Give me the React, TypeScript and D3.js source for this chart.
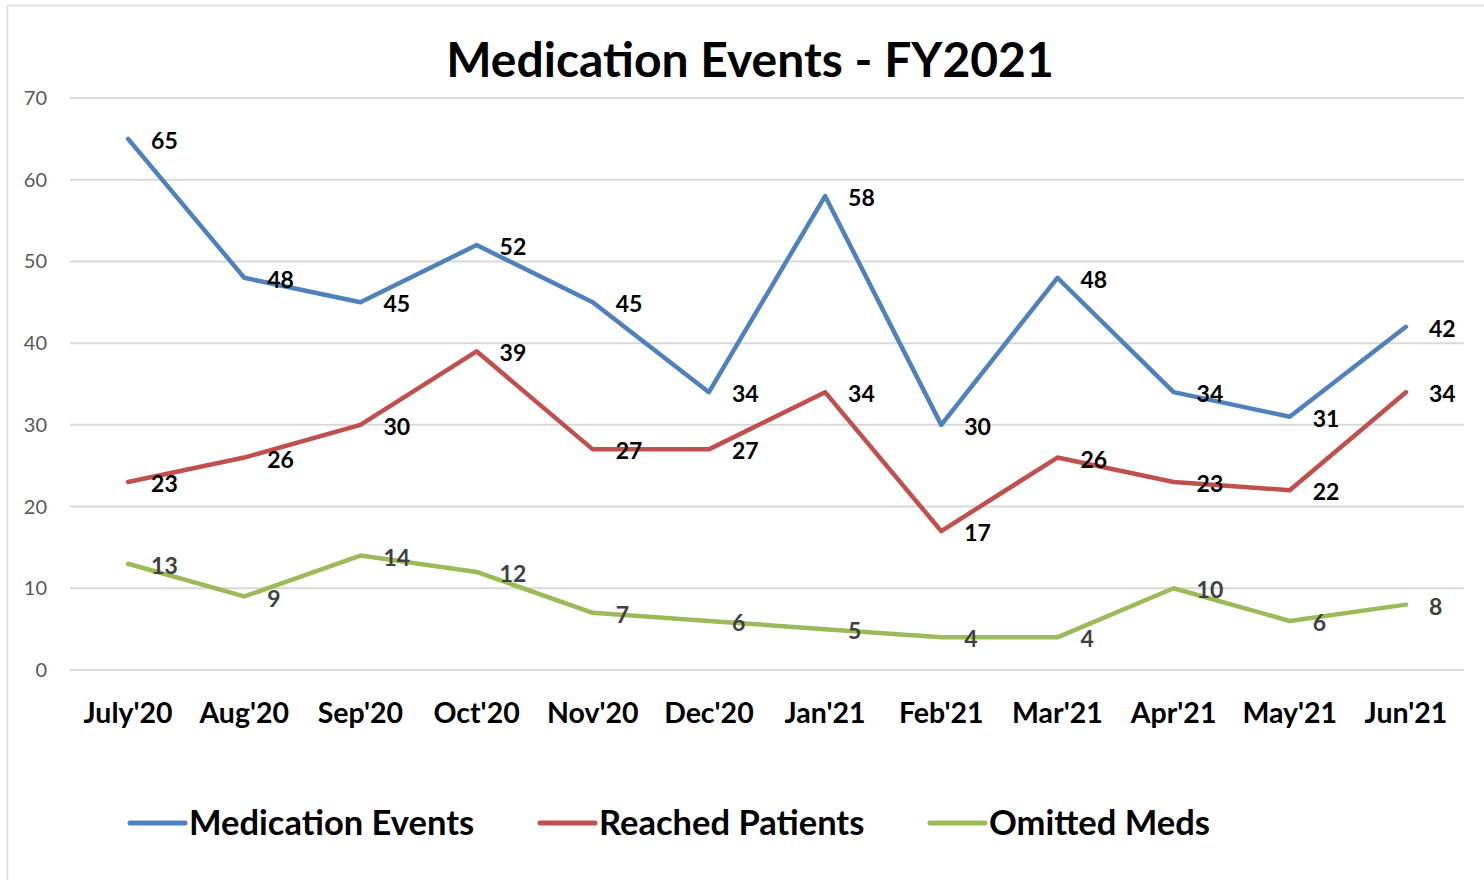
import React, { useRef, useEffect } from 'react'
import * as d3 from 'd3'

const months = ["July'20", "Aug'20", "Sep'20", "Oct'20", "Nov'20", "Dec'20", "Jan'21", "Feb'21", "Mar'21", "Apr'21", "May'21", "Jun'21"]
const medicationEvents = [65, 48, 45, 52, 45, 34, 58, 30, 48, 34, 31, 42]
const reachedPatients = [23, 26, 30, 39, 27, 27, 34, 17, 26, 23, 22, 34]
const omittedMeds = [13, 9, 14, 12, 7, 6, 5, 4, 4, 10, 6, 8]
const yTicks = [0, 10, 20, 30, 40, 50, 60, 70]

const seriesList = [
  { name: 'Medication Events', values: medicationEvents, color: '#4F81BD', labelColor: '#000000' },
  { name: 'Reached Patients', values: reachedPatients, color: '#C0504D', labelColor: '#000000' },
  { name: 'Omitted Meds', values: omittedMeds, color: '#9BBB59', labelColor: '#404040' },
]

const FONT = 'Lato, "Open Sans", sans-serif'

export default function App() {
  const ref = useRef<SVGSVGElement>(null)
  const w = 1484
  const h = 880

  useEffect(() => {
    const svg = d3.select(ref.current)
    svg.selectAll('*').remove()

    // chart frame
    svg.append('rect')
      .attr('x', 7.5).attr('y', 5.5)
      .attr('width', w).attr('height', h)
      .attr('fill', '#fff').attr('stroke', '#d9d9d9').attr('stroke-width', 1.5)

    const x = d3.scaleBand().domain(months).range([70, 1464])
    const y = d3.scaleLinear().domain([0, 70]).range([670, 98])
    const cx = (m: string) => (x(m) as number) + x.bandwidth() / 2

    svg.append('text')
      .attr('x', 750).attr('y', 77)
      .attr('text-anchor', 'middle')
      .style('font', `bold 48px ${FONT}`)
      .text('Medication Events - FY2021')

    // grid
    svg.append('g').selectAll('line').data(yTicks).enter().append('line')
      .attr('x1', 70).attr('x2', 1464)
      .attr('y1', d => y(d)).attr('y2', d => y(d))
      .attr('stroke', '#d9d9d9').attr('stroke-width', 2)

    svg.append('g').selectAll('text').data(yTicks).enter().append('text')
      .attr('x', 47).attr('y', d => y(d))
      .attr('dy', '0.35em')
      .attr('text-anchor', 'end')
      .attr('fill', '#595959')
      .style('font', `20px ${FONT}`)
      .text(d => d)

    svg.append('g').selectAll('text').data(months).enter().append('text')
      .attr('x', d => cx(d)).attr('y', 713)
      .attr('dy', '0.35em')
      .attr('text-anchor', 'middle')
      .style('font', `bold 28.5px ${FONT}`)
      .text(d => d)

    const line = d3.line<number>()
      .x((d, i) => cx(months[i]))
      .y(d => y(d))

    seriesList.forEach(s => {
      svg.append('path')
        .datum(s.values)
        .attr('d', line)
        .attr('fill', 'none')
        .attr('stroke', s.color)
        .attr('stroke-width', 4.5)
        .attr('stroke-linejoin', 'round')
        .attr('stroke-linecap', 'round')
    })

    seriesList.forEach(s => {
      svg.append('g').selectAll('text').data(s.values).enter().append('text')
        .attr('x', (d, i) => cx(months[i]) + 23)
        .attr('y', d => y(d) + 2)
        .attr('dy', '0.35em')
        .attr('fill', s.labelColor)
        .style('font', `bold 23px ${FONT}`)
        .text(d => d)
    })

    // legend
    const legendX = [130, 540, 930]
    seriesList.forEach((s, i) => {
      const g = svg.append('g').attr('transform', `translate(${legendX[i]},823)`)
      g.append('line')
        .attr('x1', 0).attr('x2', 55)
        .attr('stroke', s.color).attr('stroke-width', 5)
        .attr('stroke-linecap', 'round')
      g.append('text')
        .attr('x', 59).attr('dy', '0.35em')
        .style('font', `bold 34.5px ${FONT}`)
        .text(s.name)
    })
  }, [])

  return (
    <div className="parent" style={{ position: 'absolute', left: 0, top: 0 }}>
      <svg ref={ref} width={w} height={h} style={{ display: 'block' }} />
    </div>
  )
}
